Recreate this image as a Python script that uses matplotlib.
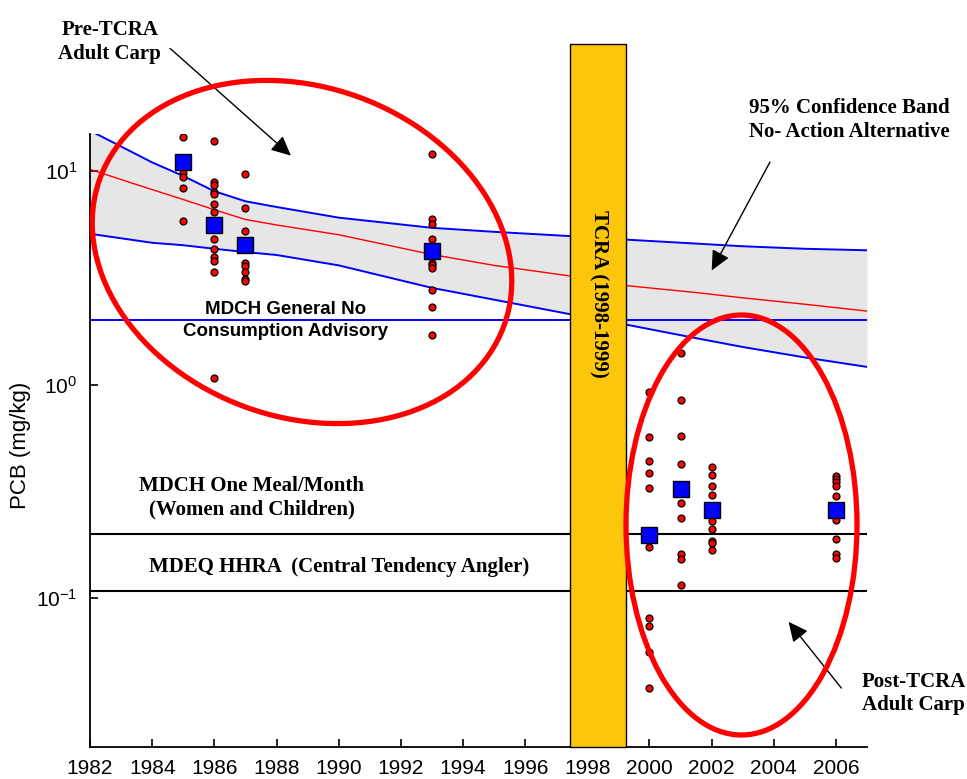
import matplotlib
matplotlib.use("Agg")
import matplotlib.pyplot as plt
from matplotlib.patches import Ellipse, Rectangle
from matplotlib.ticker import NullLocator

# PCB in adult carp, individual fish and annual means (mg/kg)
years = [1985, 1986, 1987, 1993, 2000, 2001, 2002, 2006]
pcb_1985 = [14.4, 9.86, 9.44, 8.32, 5.87]
pcb_1986 = [13.8, 8.88, 8.66, 7.97, 7.84, 7.03, 6.47, 4.83, 4.33, 3.95, 3.81, 3.36, 1.07]
pcb_1987 = [9.72, 6.71, 5.23, 3.72, 3.59, 3.36, 3.13, 3.05]
pcb_1993 = [12.1, 6.0, 5.66, 4.83, 3.72, 3.62, 3.5, 2.77, 2.32, 1.71]
pcb_2000 = [0.92, 0.566, 0.44, 0.384, 0.329, 0.174, 0.0802, 0.0741, 0.0556, 0.0377]
pcb_2001 = [1.408, 0.851, 0.577, 0.423, 0.277, 0.236, 0.161, 0.152, 0.115]
pcb_2002 = [0.409, 0.377, 0.336, 0.304, 0.229, 0.211, 0.185, 0.18, 0.167]
pcb_2006 = [0.372, 0.359, 0.348, 0.336, 0.299, 0.233, 0.188, 0.161, 0.154]
pcb_mean = [11.0, 5.61, 4.53, 4.22, 0.197, 0.325, 0.259, 0.259]

# no-action alternative: prediction and 95% band
band_years = [1982, 1984, 1985, 1986, 1987, 1988, 1990, 1993, 1995, 1997.5,
              1999.25, 2001.5, 2003, 2005, 2007]
band_mid = [10.2, 8.2, 7.37, 6.6, 5.94, 5.6, 5.04, 4.07, 3.62, 3.22,
            2.91, 2.7, 2.55, 2.38, 2.21]
band_upper = [15.5, 11.0, 9.5, 8.06, 7.23, 6.8, 6.06, 5.43, 5.2, 4.96,
              4.78, 4.58, 4.45, 4.33, 4.26]
band_lower = [5.09, 4.62, 4.5, 4.33, 4.18, 4.05, 3.62, 2.84, 2.5, 2.13,
              1.91, 1.65, 1.5, 1.34, 1.21]

# advisory levels (mg/kg)
general_no_consumption = 2.0
one_meal_month = 0.2
hhra_central = 0.108

tcra_start = 1997.45
tcra_end = 1999.25

plt.rcParams['font.family'] = 'Liberation Sans'
plt.rcParams['mathtext.fontset'] = 'custom'
plt.rcParams['mathtext.rm'] = 'Liberation Sans'
plt.rcParams['mathtext.it'] = 'Liberation Sans:italic'
plt.rcParams['mathtext.bf'] = 'Liberation Sans:bold'

serif_bold = dict(family='Liberation Serif', weight='bold', fontsize=15)
arrow = dict(arrowstyle='-|>,head_length=0.8,head_width=0.38', color='black',
             lw=1.0, mutation_scale=15)

fig = plt.figure(figsize=(9.67, 7.79), dpi=100)
ax = fig.add_axes([0.0931, 0.0411, 0.8035, 0.7873])
ax.set_yscale('log')

ax.fill_between(band_years, band_lower, band_upper, color='#e6e6e6', lw=0, zorder=1)
ax.plot(band_years, band_upper, color='#0000ff', lw=1.4, zorder=2)
ax.plot(band_years, band_lower, color='#0000ff', lw=1.4, zorder=2)
ax.plot(band_years, band_mid, color='#ff0000', lw=1.0, zorder=2)

ax.axhline(general_no_consumption, color='#0000ff', lw=1.4, zorder=2)
ax.axhline(one_meal_month, color='black', lw=1.5, zorder=2)
ax.axhline(hhra_central, color='black', lw=1.5, zorder=2)

samples = [pcb_1985, pcb_1986, pcb_1987, pcb_1993, pcb_2000, pcb_2001, pcb_2002, pcb_2006]
for yr, vals in zip(years, samples):
    ax.plot([yr] * len(vals), vals, 'o', ms=5, mfc='#ff0000', mec='black', mew=0.9, zorder=4)
ax.plot(years, pcb_mean, 's', ms=11, mfc='#0000ff', mec='black', mew=1.0, zorder=5)

ax.set_xlim(1982, 2007)
ax.set_ylim(0.02, 15)

# TCRA period bar, sticks out above the plot
ax.add_patch(Rectangle((tcra_start, 0.02), tcra_end - tcra_start, 39.3 - 0.02,
                       facecolor='#fcc70a', edgecolor='black', lw=1.0,
                       clip_on=False, zorder=6))
ax.text((tcra_start + tcra_end) / 2, 2.67, 'TCRA (1998-1999)', rotation=270,
        ha='center', va='center', zorder=7, **serif_bold)

# circles round pre / post groups (figure inches)
fig.add_artist(Ellipse((3.02, 5.27), 4.3, 3.3, angle=-20, fill=False,
                       ec='#ff0000', lw=3.8, transform=fig.dpi_scale_trans, zorder=8))
fig.add_artist(Ellipse((7.415, 2.54), 2.31, 4.2, angle=0, fill=False,
                       ec='#ff0000', lw=3.8, transform=fig.dpi_scale_trans, zorder=8))

# labels
ax.text(1982.64, 40.5, 'Pre-TCRA\nAdult Carp', ha='center', va='center',
        linespacing=1.25, **serif_bold)
ax.annotate('', xy=(1988.53, 11.6), xytext=(1984.51, 38.4), arrowprops=arrow)
ax.text(2006.43, 17.4, '95% Confidence Band\nNo- Action Alternative', ha='center',
        va='center', linespacing=1.25, **serif_bold)
ax.annotate('', xy=(2001.96, 3.34), xytext=(2003.92, 11.34), arrowprops=arrow)
ax.text(2006.84, 0.0356, 'Post-TCRA\nAdult Carp', ha='left', va='center',
        linespacing=1.25, **serif_bold)
ax.annotate('', xy=(2004.42, 0.0791), xytext=(2006.23, 0.0369), arrowprops=arrow)

ax.text(1988.28, 2.0, 'MDCH General No\nConsumption Advisory', ha='center',
        va='center', fontsize=13.5, fontweight='bold', linespacing=1.35, zorder=3)
ax.text(1987.21, 0.295, 'MDCH One Meal/Month\n(Women and Children)', ha='center',
        va='center', linespacing=1.25, **serif_bold)
ax.text(1990.0, 0.139, 'MDEQ HHRA  (Central Tendency Angler)', ha='center',
        va='center', **serif_bold)

fig.text(21 / 967, 1 - 445 / 779, 'PCB (mg/kg)', rotation=90, ha='center',
         va='center', fontsize=16)
ax.set_xticks(range(1982, 2007, 2))
ax.yaxis.set_minor_locator(NullLocator())
ax.tick_params(direction='in', length=6, width=1.2, labelsize=15, pad=9)
for side in ['top', 'right']:
    ax.spines[side].set_visible(False)
for side in ['left', 'bottom']:
    ax.spines[side].set_linewidth(1.3)

fig.savefig('out.png', dpi=100)
